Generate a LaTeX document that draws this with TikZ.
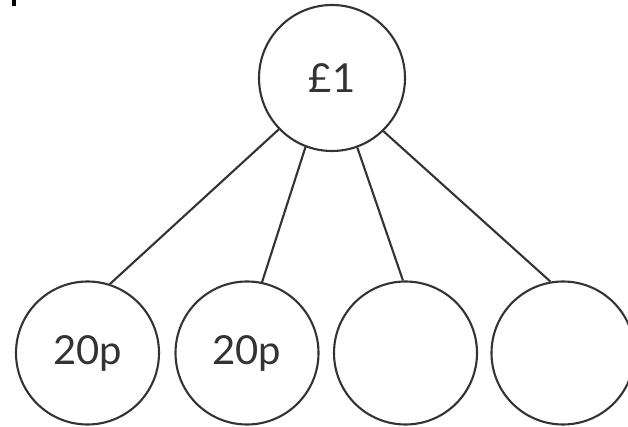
\documentclass[tikz,border=0pt]{standalone}
\usepackage{fontspec}
\setmainfont{Lato}
\begin{document}
\begin{tikzpicture}[x=1pt,y=1pt,
  coin/.style={circle,draw=black!80,line width=2.1pt,inner sep=0pt,minimum size=143pt,font=\fontsize{40}{40}\selectfont,text=black!80},
  link/.style={draw=black!80,line width=2.1pt}]
\useasboundingbox (0,0) rectangle (628,427);
\fill[black] (12,421) rectangle (15.5,427);
\node[coin,minimum size=146pt] (top) at (332,349) {£1};
\node[coin] (c1) at (87.5,74) {20p};
\node[coin] (c2) at (247,74) {20p};
\node[coin] (c3) at (405.5,74) {};
\node[coin] (c4) at (563,74) {};
\draw[link] (top.224) -- (c1.72);
\draw[link] (top.249) -- (c2.78);
\draw[link] (top.290) -- (c3.92);
\draw[link] (top.314) -- (c4.100);
\end{tikzpicture}
\end{document}
